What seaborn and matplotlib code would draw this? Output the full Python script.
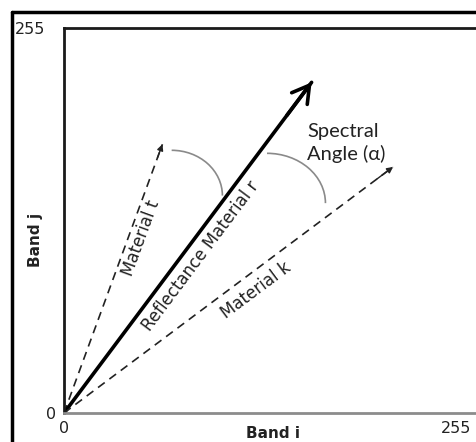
import numpy as np
import pandas as pd
import seaborn as sns
import matplotlib.pyplot as plt
import matplotlib.transforms as mtransforms
from matplotlib.patches import Arc
from matplotlib.lines import Line2D

# vectors drawn from the origin (band i, band j values of the tips)
materials = ['Material t', 'Reflectance Material r', 'Material k']
tip_x = [64, 161, 214]
tip_y = [178, 219, 163]

# where each vector name sits (band units)
label_x = [50, 89, 125]
label_y = [116, 104, 81]

# spectral angle arcs (center, width, height in band units)
arc_cx = [70, 132]
arc_cy = [144, 139]
arc_w = [66, 76]
arc_h = [60, 66]

tick_values = [0, 255]
tick_labels = ['0', '255']

sns.set_theme(style='white')
plt.rcParams['font.family'] = ['DejaVu Sans']

fig = plt.figure(figsize=(4.76, 4.42), dpi=100)
ax = fig.add_axes([64 / 476, 29 / 442, 426 / 476, 385 / 442])
ax.set_xlim(0, 277)
ax.set_ylim(0, 255)

# vectors
for name, x, y in zip(materials, tip_x, tip_y):
    df = pd.DataFrame({'x': [0, x], 'y': [0, y]})
    if 'Reflectance' in name:
        sns.lineplot(data=df, x='x', y='y', ax=ax, color='black', lw=2.6,
                     estimator=None, sort=False)
        ax.annotate('', xy=(x, y), xytext=(x * 0.9, y * 0.9),
                    arrowprops=dict(arrowstyle='->,head_length=0.6,head_width=0.35',
                                    color='black', lw=2.6, mutation_scale=20,
                                    shrinkA=0, shrinkB=0))
    else:
        sns.lineplot(data=df, x='x', y='y', ax=ax, color='#222222', lw=1.2,
                     estimator=None, sort=False, linestyle=(0, (5, 3.5)))
        ax.annotate('', xy=(x, y), xytext=(x * 0.95, y * 0.95),
                    arrowprops=dict(arrowstyle='-|>', color='#222222', lw=1.0,
                                    mutation_scale=9, shrinkA=0, shrinkB=0))

for name, lx, ly, x, y in zip(materials, label_x, label_y, tip_x, tip_y):
    ax.text(lx, ly, name, rotation=np.degrees(np.arctan2(y, x)),
            transform_rotates_text=True, rotation_mode='anchor',
            ha='center', va='center', fontsize=12, color='#222222')

for cx, cy, w, h in zip(arc_cx, arc_cy, arc_w, arc_h):
    ax.add_patch(Arc((cx, cy), w, h, theta1=0, theta2=90, color='#8a8a8a', lw=1.2))

ax.text(158, 179, 'Spectral\nAngle (\u03b1)', fontsize=14.5, family=['Lato', 'DejaVu Sans'],
        ha='left', va='center', linespacing=1.3, color='#222222')

# axes styling
ax.set_xticks(tick_values)
ax.set_xticklabels(tick_labels)
ax.set_yticks(tick_values)
ax.set_yticklabels(tick_labels)
ax.tick_params(length=0, labelsize=11.5, colors='#222222', pad=6)
ax.set_xlabel('Band i', fontweight='bold', fontsize=11, color='#222222')
ax.set_ylabel('Band j', fontweight='bold', fontsize=11, color='#222222')
ax.xaxis.set_label_coords(0.49, -0.035)
ax.yaxis.set_label_coords(-0.05, 0.45)

for side in ['left', 'top']:
    ax.spines[side].set_color('#1a1a1a')
    ax.spines[side].set_linewidth(2.0)
ax.spines['bottom'].set_color('#8c8c8c')
ax.spines['bottom'].set_linewidth(2.0)
ax.spines['right'].set_visible(False)

# shift the top y label left like the source figure
lab = ax.get_yticklabels()[1]
lab.set_transform(lab.get_transform() + mtransforms.ScaledTranslation(-0.1, 0, fig.dpi_scale_trans))

# outer frame (top and left edges only visible)
fig.add_artist(Line2D([12 / 476, 1], [1 - 12 / 442, 1 - 12 / 442], color='black', lw=2.5))
fig.add_artist(Line2D([12 / 476, 12 / 476], [0, 1 - 12 / 442], color='black', lw=2.5))

fig.savefig('out.png', dpi=100)
